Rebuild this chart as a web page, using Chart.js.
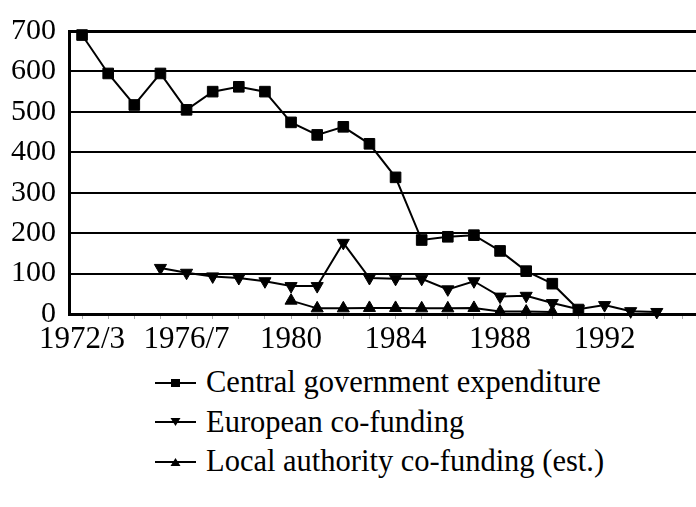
<!DOCTYPE html>
<html>
<head>
<meta charset="utf-8">
<script src="https://cdn.jsdelivr.net/npm/chart.js@4"></script>
<style>
  body { margin: 0; background: #fff; font-family: "Liberation Serif", "Times New Roman", Times, serif; }
  #wrap { position: relative; width: 696px; height: 359px; }
  #legend { position: absolute; left: 155px; top: 363px; }
  .row { display: flex; align-items: center; height: 39.5px; font-size: 30.5px; color: #000; }
  .row svg { margin-right: 10px; }
</style>
</head>
<body>
<div id="wrap"><canvas id="chart"></canvas></div>
<div id="legend"></div>
<script>
// years on the x axis (only every 4th one is labelled)
const years = ['1972/3', '1973/4', '1974/5', '1975/6', '1976/7', '1977/8', '1978/9', '1979/80',
    '1980', '1981', '1982', '1983', '1984', '1985', '1986', '1987',
    '1988', '1989', '1990', '1991', '1992', '1993', '1994', '1995'];

const centralGov = [690, 595, 517, 595, 505, 550, 562, 550, 474, 443, 463, 421, 338, 183, 191, 195,
    156, 106, 75, 11, null, null, null, null];
const europeanCoFunding = [null, null, null, 114, 102, 93, 89, 81, 69, 69, 176, 89, 87, 87, 61, 81,
    43, 45, 27, 12, 22, 7, 5, null];
const localCoFunding = [null, null, null, null, null, null, null, null, 33, 14, 14, 15, 15, 14, 14, 15,
    6, 6, 5, null, null, null, null, null];

const yTicks = [0, 100, 200, 300, 400, 500, 600, 700];

const serif = '"Liberation Serif", "Times New Roman", Times, serif';

const ctx = document.getElementById('chart').getContext('2d');
const chart = new Chart(ctx, {
    type: 'line',
    data: {
        labels: years,
        datasets: [{
            label: 'Central government expenditure',
            data: centralGov,
            pointStyle: 'rect',
            pointRadius: 7.5,
            pointRotation: 0
        }, {
            label: 'European co-funding',
            data: europeanCoFunding,
            pointStyle: 'triangle',
            pointRadius: 7,
            pointRotation: 180
        }, {
            label: 'Local authority co-funding (est.)',
            data: localCoFunding,
            pointStyle: 'triangle',
            pointRadius: 7,
            pointRotation: 0
        }].map(ds => Object.assign({
            borderColor: '#000',
            backgroundColor: '#000',
            borderWidth: 2,
            pointBorderWidth: 1,
            pointBackgroundColor: '#000',
            pointBorderColor: '#000',
            tension: 0,
            spanGaps: false,
            clip: false
        }, ds))
    },
    options: {
        responsive: true,
        maintainAspectRatio: false,
        animation: false,
        layout: { autoPadding: false, padding: { top: 19, left: 0, right: 0, bottom: 0 } },
        plugins: {
            legend: { display: false },
            tooltip: { enabled: false }
        },
        scales: {
            x: {
                offset: true,
                afterFit: s => { s.height = 45; s.paddingRight = 0; s.paddingLeft = 0; },
                grid: {
                    drawOnChartArea: false,
                    drawTicks: true,
                    tickLength: 5,
                    color: '#aaa',
                    offset: false
                },
                border: { display: true, color: '#000', width: 3 },
                ticks: {
                    autoSkip: false,
                    maxRotation: 0,
                    padding: 2,
                    color: '#000',
                    font: { family: serif, size: 31 },
                    callback: function(val, i) { return i % 4 === 0 ? years[i] : ''; }
                }
            },
            y: {
                min: yTicks[0],
                max: yTicks[yTicks.length - 1],
                afterFit: s => { s.width = 69; },
                afterBuildTicks: s => { s.ticks = yTicks.map(v => ({ value: v })); },
                grid: {
                    color: '#000',
                    lineWidth: c => c.tick && c.tick.value === 700 ? 3 : 2,
                    drawTicks: false
                },
                border: { display: true, color: '#000', width: 3 },
                ticks: {
                    padding: 13,
                    color: '#000',
                    font: { family: serif, size: 30 }
                }
            }
        }
    }
});

// legend rows, drawn as html below the plot
const legendEl = document.getElementById('legend');
chart.data.datasets.forEach(ds => {
    let shape;
    if (ds.pointStyle === 'rect') {
        shape = '<rect x="16" y="6" width="9" height="8" fill="#000"/>';
    } else if (ds.pointRotation === 180) {
        shape = '<polygon points="15.5,6 25.5,6 20.5,14" fill="#000"/>';
    } else {
        shape = '<polygon points="15.5,14 25.5,14 20.5,6" fill="#000"/>';
    }
    const row = document.createElement('div');
    row.className = 'row';
    row.innerHTML = '<svg width="41" height="20"><line x1="0" y1="10" x2="41" y2="10" stroke="#000" stroke-width="2"/>' +
        shape + '</svg><span>' + ds.label + '</span>';
    legendEl.appendChild(row);
});
</script>
</body>
</html>
